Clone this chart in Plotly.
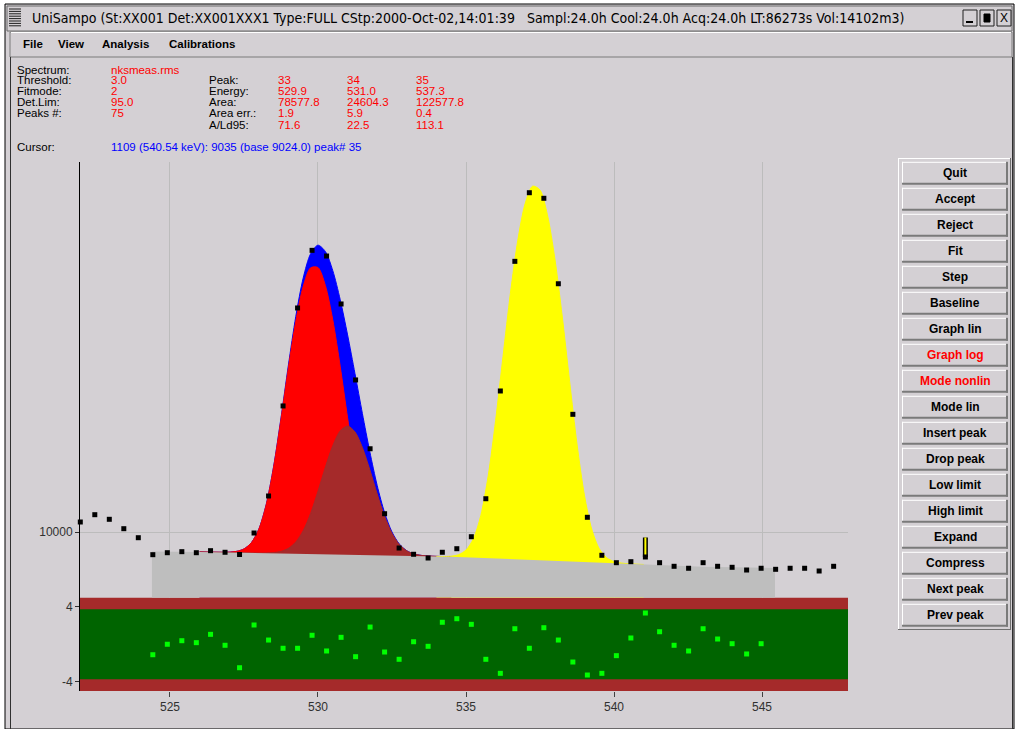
import plotly.graph_objects as go

W, H = 1019, 729
BG = '#d4d0d4'
RED = '#ff0000'
BLUE = '#0000ff'

# ---------------- data ----------------
chan_energy = [521.97, 522.46, 522.95, 523.44, 523.93, 524.42, 524.91, 525.40, 525.89, 526.37,
               526.86, 527.35, 527.84, 528.33, 528.82, 529.31, 529.80, 530.29, 530.78, 531.27,
               531.76, 532.25, 532.74, 533.23, 533.72, 534.20, 534.69, 535.18, 535.67, 536.16,
               536.65, 537.14, 537.63, 538.12, 538.61, 539.10, 539.59, 540.08, 540.57, 541.06,
               541.54, 542.03, 542.52, 543.01, 543.50, 543.99, 544.48, 544.97, 545.46, 545.95,
               546.44, 546.93, 547.42, 547.91]
chan_counts = [10398, 10699, 10508, 10130, 9780, 9153, 9224, 9261, 9224, 9297,
               9239, 9160, 9961, 11509, 16355, 23972, 30018, 29359, 24350, 18101,
               13839, 10740, 9394, 9167, 9035, 9239, 9369, 9818, 11387, 17339,
               28757, 37590, 36780, 26350, 15829, 10591, 9131, 8871, 8906, 9071,
               8871, 8747, 8680, 8871, 8747, 8713, 8621, 8680, 8645, 8680,
               8680, 8588, 8747, 8680]
resid_energy = chan_energy[5:48]
residuals = [-1.12, 0.0, 0.38, 0.17, 1.06, -0.11, -2.51, 2.06, 0.45, -0.43,
             -0.43, 0.96, -0.72, 0.74, -1.33, 1.84, -0.83, -1.61, 0.27, -0.22,
             2.35, 2.73, 2.13, -1.61, -3.11, 1.66, -0.43, 1.77, 0.45, -1.90,
             -3.29, -3.11, -1.22, 0.67, 3.34, 1.34, -0.11, -0.72, 1.66, 0.56,
             0.06, -1.04, 0.06]

fit_energy_a = [526.00, 526.25, 526.50, 526.75, 527.00, 527.25, 527.50, 527.75, 528.00, 528.25,
                528.50, 528.75, 529.00, 529.25, 529.50, 529.75, 530.00, 530.25, 530.50, 530.75,
                531.00, 531.25, 531.50, 531.75, 532.00, 532.25, 532.50, 532.75, 533.00, 533.25,
                533.50, 533.75, 534.00, 534.25, 534.50]
fit_total = [9250, 9245, 9241, 9239, 9245, 9273, 9362, 9593, 10111, 11134,
             12909, 15609, 19173, 23193, 26944, 29614, 30629, 29881, 27730, 24774,
             21582, 18547, 15879, 13684, 11989, 10783, 9999, 9539, 9295, 9178,
             9126, 9103, 9092, 9086, 9080]
fit_peak33 = [9250, 9245, 9241, 9239, 9245, 9273, 9362, 9592, 10108, 11125,
              12881, 15532, 18980, 22759, 26071, 28037, 28073, 26165, 22881, 19094,
              15612, 12916, 11113, 10063, 9520, 9273, 9170, 9130, 9114, 9106,
              9100, 9095, 9090, 9085, 9080]
fit_peak34 = [9250, 9245, 9240, 9235, 9230, 9225, 9220, 9216, 9213, 9214,
              9228, 9272, 9383, 9619, 10053, 10752, 11726, 12881, 14009, 14835,
              15120, 14776, 13906, 12756, 11599, 10635, 9949, 9524, 9291, 9177,
              9126, 9103, 9092, 9086, 9080]
fit_energy_c = [534.00, 534.25, 534.50, 534.75, 535.00, 535.25, 535.50, 535.75, 536.00, 536.25,
                536.50, 536.75, 537.00, 537.25, 537.50, 537.75, 538.00, 538.25, 538.50, 538.75,
                539.00, 539.25, 539.50, 539.75, 540.00, 540.25, 540.50, 540.75, 541.00]
fit_peak35 = [9092, 9088, 9099, 9153, 9321, 9743, 10670, 12450, 15449, 19845,
              25387, 31227, 36061, 38566, 37985, 34495, 29114, 23227, 18011, 14095,
              11551, 10104, 9375, 9047, 8912, 8859, 8835, 8821, 8810]
baseline_energy = [524.39, 526.0, 534.5, 541.0, 543.0, 545.44]
baseline_counts = [9270, 9250, 9080, 8810, 8730, 8690]

cursor_energy = [541.06, 541.06]
cursor_counts = [9071, 9790]

x_ticks = [525, 530, 535, 540, 545]

title_text = ("UniSampo (St:XX001 Det:XX001XXX1 Type:FULL CStp:2000-Oct-02,14:01:39"
              "\u00a0\u00a0\u00a0Sampl:24.0h Cool:24.0h Acq:24.0h LT:86273s Vol:14102m3)")
menu_items = ['File', 'View', 'Analysis', 'Calibrations']
info_labels = ['Spectrum:', 'Threshold:', 'Fitmode:', 'Det.Lim:', 'Peaks #:']
info_values = ['nksmeas.rms', '3.0', '2', '95.0', '75']
peak_labels = ['Peak:', 'Energy:', 'Area:', 'Area err.:', 'A/Ld95:']
peak_ids = ['33', '34', '35']
peak_energy = ['529.9', '531.0', '537.3']
peak_area = ['78577.8', '24604.3', '122577.8']
peak_area_err = ['1.9', '5.9', '0.4']
peak_ald95 = ['71.6', '22.5', '113.1']
cursor_text = '1109 (540.54 keV): 9035 (base 9024.0) peak# 35'
buttons = ['Quit', 'Accept', 'Reject', 'Fit', 'Step', 'Baseline', 'Graph lin', 'Graph log',
           'Mode nonlin', 'Mode lin', 'Insert peak', 'Drop peak', 'Low limit', 'High limit',
           'Expand', 'Compress', 'Next peak', 'Prev peak']
red_buttons = ['Graph log', 'Mode nonlin']

# ---------------- helpers ----------------
shapes = []
annotations = []
FONT = 'Liberation Sans, Arial, sans-serif'


def rect(x0, y0, x1, y1, fill=None, line=None, lw=1, layer='below'):
    shapes.append(dict(type='rect', xref='paper', yref='paper',
                       x0=x0 / W, x1=x1 / W, y0=1 - y1 / H, y1=1 - y0 / H,
                       fillcolor=fill if fill else 'rgba(0,0,0,0)',
                       line=dict(color=line if line else 'rgba(0,0,0,0)', width=lw if line else 0),
                       layer=layer))


def seg(x0, y0, x1, y1, color, lw=1, layer='below'):
    shapes.append(dict(type='line', xref='paper', yref='paper',
                       x0=x0 / W, x1=x1 / W, y0=1 - y0 / H, y1=1 - y1 / H,
                       line=dict(color=color, width=lw), layer=layer))


def txt(x, y, s, size=11.5, color='black', anchor='left', family=FONT):
    annotations.append(dict(xref='paper', yref='paper', x=x / W, y=1 - y / H, text=s,
                            showarrow=False, xanchor=anchor, yanchor='middle',
                            borderpad=0, font=dict(size=size, color=color, family=family)))


# ---------------- window chrome ----------------
rect(5, 4, 1014, 729, fill=BG, line='black')
# title bar
rect(7, 6, 1012, 31, fill=BG, line='#6a6a6a')
for i in range(8):
    seg(9, 9 + 2.4 * i, 21, 9 + 2.4 * i, '#202020', 1)
txt(31, 18.5, title_text, size=14, family='Liberation Sans Narrow, DejaVu Sans Condensed, Liberation Sans')
for bx in (963, 980, 997):
    rect(bx, 10, bx + 14, 26, fill=BG, line='#202020')
seg(966, 22, 973, 22, 'black', 2)
rect(984, 14, 990, 22, fill='black', line='black')
txt(1004, 18, 'X', size=12, anchor='center')
# menu bar
rect(10, 32, 1012, 57, fill=BG, line='#7a7a7a')
seg(11, 32.5, 1011, 32.5, 'white', 1)
for x, m in zip([22, 57, 100.5, 167.5], menu_items):
    txt(x, 44.5, '<b>' + m + '</b>', size=11.5)
# content frame
seg(10.5, 57, 10.5, 729, '#303030', 1)
seg(1012.5, 57, 1012.5, 729, '#303030', 1)

# info panel
rows_y = [70, 80.5, 91, 102, 113.5, 125]
for i, (lab, val) in enumerate(zip(info_labels, info_values)):
    txt(16, rows_y[i], lab)
    txt(110, rows_y[i], val, color=RED)
peak_cols = [peak_ids, peak_energy, peak_area, peak_area_err, peak_ald95]
for j, lab in enumerate(peak_labels):
    y = rows_y[j + 1]
    txt(208, y, lab)
    for c, xcol in enumerate([277, 345.5, 415]):
        txt(xcol, y, peak_cols[j][c], color=RED)
txt(16, 146.5, 'Cursor:')
txt(110, 146.5, cursor_text, color=BLUE)

# button panel
rect(898, 158, 1011, 630, fill=BG)
seg(898, 158.5, 1011, 158.5, 'white', 1)
seg(898.5, 158, 898.5, 630, 'white', 1)
seg(1010.5, 158, 1010.5, 630, '#707070', 1)
seg(898, 629.5, 1011, 629.5, '#707070', 1)
for i, b in enumerate(buttons):
    cy = 173.3 + 26 * i
    y0, y1 = cy - 11.5, cy + 11.5
    rect(902, y0, 1008, y1, fill=BG)
    seg(902, y0 + 0.5, 1008, y0 + 0.5, 'white', 1)
    seg(902.5, y0, 902.5, y1, 'white', 1)
    seg(902, y1 - 1, 1008, y1 - 1, '#7a7a7a', 2)
    seg(1007, y0, 1007, y1, '#7a7a7a', 2)
    col = RED if b in red_buttons else 'black'
    txt(955, cy, '<b>' + b + '</b>', size=12, color=col, anchor='center')

# residual panel bands
shapes.append(dict(type='rect', xref='x2 domain', yref='y2', x0=0, x1=1, y0=-5, y1=5,
                   fillcolor='#a52a2a', line=dict(width=0), layer='below'))
shapes.append(dict(type='rect', xref='x2 domain', yref='y2', x0=0, x1=1, y0=-3.75, y1=3.75,
                   fillcolor='#006400', line=dict(width=0), layer='below'))

# ---------------- traces ----------------
fig = go.Figure()
spl = dict(shape='spline', smoothing=0.8, width=1)
fig.add_trace(go.Scatter(x=fit_energy_a, y=fit_total, mode='lines', fill='tozeroy',
                         fillcolor=BLUE, line=dict(color=BLUE, **spl), hoverinfo='skip'))
fig.add_trace(go.Scatter(x=fit_energy_a, y=fit_peak33, mode='lines', fill='tozeroy',
                         fillcolor=RED, line=dict(color=RED, **spl), hoverinfo='skip'))
fig.add_trace(go.Scatter(x=fit_energy_a, y=fit_peak34, mode='lines', fill='tozeroy',
                         fillcolor='#a52a2a', line=dict(color='#a52a2a', **spl), hoverinfo='skip'))
fig.add_trace(go.Scatter(x=fit_energy_c, y=fit_peak35, mode='lines', fill='tozeroy',
                         fillcolor='#ffff00', line=dict(color='#ffff00', **spl), hoverinfo='skip'))
fig.add_trace(go.Scatter(x=baseline_energy, y=baseline_counts, mode='lines', fill='tozeroy',
                         fillcolor='#bebebe', line=dict(color='#bebebe', width=0), hoverinfo='skip'))
fig.add_trace(go.Scatter(x=cursor_energy, y=cursor_counts, mode='lines',
                         line=dict(color='black', width=5), hoverinfo='skip'))
fig.add_trace(go.Scatter(x=cursor_energy, y=cursor_counts, mode='lines',
                         line=dict(color='#ffff00', width=2), hoverinfo='skip'))
fig.add_trace(go.Scatter(x=chan_energy, y=chan_counts, mode='markers', cliponaxis=False,
                         marker=dict(symbol='square', size=5, color='black', line=dict(width=0))))
fig.add_trace(go.Scatter(x=resid_energy, y=residuals, mode='markers', xaxis='x2', yaxis='y2',
                         cliponaxis=False,
                         marker=dict(symbol='square', size=5, color='#00ff00', line=dict(width=0))))

xdom = [80 / W, 848 / W]
tickfont = dict(family=FONT, size=12, color='#303030')
fig.update_layout(
    width=W, height=H, autosize=False,
    margin=dict(l=0, r=0, t=0, b=0, pad=0),
    paper_bgcolor='white', plot_bgcolor='rgba(0,0,0,0)',
    showlegend=False,
    xaxis=dict(domain=xdom, range=[521.96, 547.905], anchor='y', tickvals=x_ticks,
               showticklabels=False, ticks='', showgrid=True, gridcolor='#bcbcbc', gridwidth=1,
               zeroline=False, showline=False),
    yaxis=dict(domain=[1 - 597.5 / H, 1 - 162 / H], type='log', range=[3.88898, 4.62712],
               anchor='x', tickvals=[10000], ticktext=['10000'], ticks='outside', ticklen=4,
               tickcolor='#303030', showline=True, linecolor='black', linewidth=1,
               showgrid=True, gridcolor='#bcbcbc', gridwidth=1, zeroline=False, tickfont=tickfont),
    xaxis2=dict(domain=xdom, range=[521.96, 547.905], anchor='y2', matches='x', tickvals=x_ticks,
                ticks='outside', ticklen=5, tickcolor='#404040', showgrid=False, zeroline=False,
                showline=False, tickfont=tickfont),
    yaxis2=dict(domain=[1 - 691 / H, 1 - 597.5 / H], range=[-5, 5], anchor='x2',
                tickvals=[4, -4], ticktext=['4', '-4'], ticks='outside', ticklen=4,
                tickcolor='#303030', showline=True, linecolor='black', linewidth=1,
                showgrid=False, zeroline=False, tickfont=tickfont),
    shapes=shapes, annotations=annotations,
)

fig.write_html('out.html')
